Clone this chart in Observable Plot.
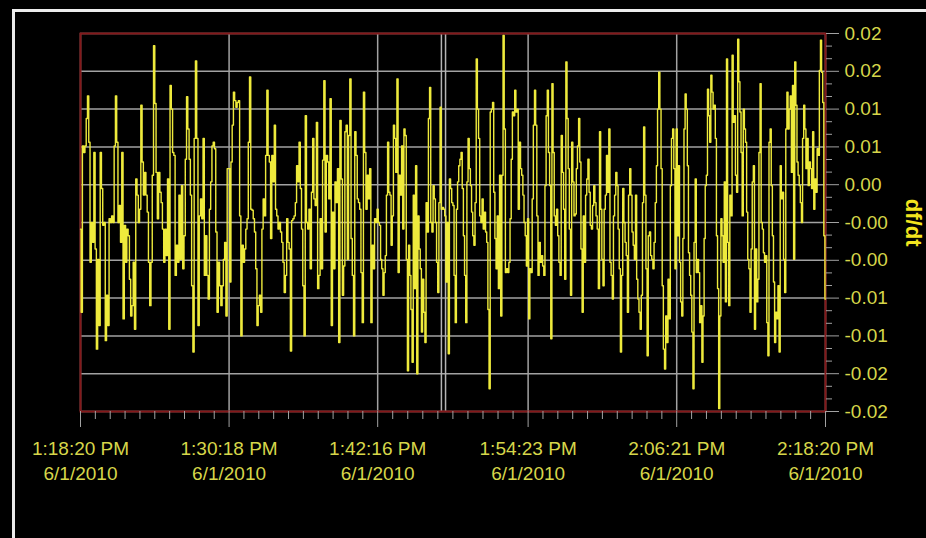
<!DOCTYPE html>
<html><head><meta charset="utf-8">
<script src="https://cdn.jsdelivr.net/npm/d3@7"></script>
<script src="https://cdn.jsdelivr.net/npm/@observablehq/plot@0.6"></script>
<style>
html,body{margin:0;padding:0;background:#000;overflow:hidden;width:926px;height:538px}
#chart{position:absolute;left:0;top:0}
#border{position:absolute;left:12px;top:9px;width:940px;height:560px;border:3px solid #ececec;pointer-events:none}
</style></head><body>
<div id="chart"></div><div id="border"></div>
<script>
// Tick times and labels (x axis)
const xTickTimes = [
  new Date(Date.UTC(2010,5,1,13,18,20)),
  new Date(Date.UTC(2010,5,1,13,30,18)),
  new Date(Date.UTC(2010,5,1,13,42,16)),
  new Date(Date.UTC(2010,5,1,13,54,23)),
  new Date(Date.UTC(2010,5,1,14,6,21)),
  new Date(Date.UTC(2010,5,1,14,18,20))
];
const xTickLabels = ["1:18:20 PM\n6/1/2010","1:30:18 PM\n6/1/2010","1:42:16 PM\n6/1/2010","1:54:23 PM\n6/1/2010","2:06:21 PM\n6/1/2010","2:18:20 PM\n6/1/2010"];
// cursor lines
const cursorTimes = [new Date(Date.UTC(2010,5,1,13,47,24)), new Date(Date.UTC(2010,5,1,13,47,44))];
// y ticks
const yTicks = [0.0198,0.0158,0.0118,0.0078,0.0038,-0.0002,-0.0042,-0.0082,-0.0122,-0.0162,-0.0202];

// df/dt samples, one list per labelled 12-minute interval
const seg1 = [-0.0009,-0.0097,0.0079,0.0072,0.0079,0.0108,0.0132,0.0083,-0.0044,-0.0002,-0.0023,0.0072,-0.0030,-0.0136,-0.0041,-0.0111,0.0072,0.0034,-0.0005,-0.0002,-0.0127,-0.0079,-0.0111,0.0002,-0.0002,0.0005,-0.0002,0.0079,0.0132,0.0083,-0.0002,0.0016,-0.0023,0.0072,-0.0104,-0.0005,-0.0044,-0.0009,-0.0016,-0.0062,-0.0101,-0.0090,-0.0044,-0.0115,0.0044,0.0027,-0.0002,0.0012,0.0122,0.0062,0.0027,0.0051,0.0027,0.0009,-0.0044,-0.0090,-0.0044,0.0048,0.0185,0.0124,0.0051,0.0002,0.0051,0.0030,0.0019,-0.0009,-0.0044,-0.0009,-0.0037,0.0044,-0.0115,0.0143,0.0118,0.0072,0.0069,-0.0058,-0.0026,-0.0044,0.0027,-0.0041,0.0037,-0.0051,-0.0016,0.0065,0.0131,0.0097,0.0065,0.0027,-0.0069,-0.0139,0.0087,0.0169,0.0087,-0.0111,0.0005,0.0023,0.0002,0.0087,-0.0058,-0.0016,-0.0058,-0.0083,0.0012,0.0041,0.0079,0.0083,0.0076,-0.0012,-0.0097,-0.0044,-0.0069,-0.0090,-0.0069,-0.0041,-0.0023,-0.0101,0.0055];
const seg2 = [0.0055,-0.0065,0.0062,0.0101,0.0136,0.0127,0.0120,0.0125,0.0127,0.0005,-0.0122,-0.0026,-0.0044,-0.0030,-0.0009,0.0002,0.0083,0.0152,0.0012,0.0011,0.0002,-0.0012,-0.0051,-0.0111,-0.0090,-0.0079,-0.0097,-0.0009,0.0023,0.0005,0.0069,0.0138,0.0069,0.0062,-0.0019,0.0069,0.0041,0.0101,0.0012,0.0005,-0.0009,-0.0002,-0.0012,-0.0023,-0.0044,-0.0076,-0.0058,0.0002,-0.0023,-0.0030,-0.0138,0.0000,0.0002,0.0005,0.0019,0.0058,0.0041,0.0083,0.0034,-0.0009,-0.0069,-0.0122,0.0111,-0.0002,-0.0009,0.0012,-0.0051,0.0030,0.0087,0.0023,0.0016,0.0104,-0.0072,-0.0058,0.0002,-0.0051,0.0064,0.0148,-0.0012,0.0069,0.0062,0.0023,0.0129,-0.0111,0.0009,-0.0051,0.0041,0.0019,0.0055,-0.0129,0.0106,0.0044,-0.0079,-0.0048,0.0094,0.0101,-0.0041,0.0090,0.0150,-0.0019,-0.0058,-0.0122,0.0094,0.0069,0.0023,0.0019,0.0012,-0.0055,-0.0108,0.0136,0.0072,0.0012,0.0048,0.0023,0.0055,-0.0108,-0.0026,-0.0051,0.0002,-0.0002];
const seg3 = [0.0012,-0.0002,-0.0005,-0.0041,-0.0051,-0.0079,-0.0055,-0.0037,0.0027,0.0083,0.0030,0.0027,-0.0026,0.0005,0.0101,0.0087,0.0051,0.0150,-0.0055,0.0048,0.0027,0.0079,-0.0009,0.0097,0.0090,-0.0041,-0.0159,-0.0026,-0.0058,-0.0094,-0.0150,0.0027,-0.0072,0.0058,-0.0162,0.0005,-0.0030,-0.0051,-0.0118,-0.0062,-0.0097,-0.0129,0.0019,-0.0012,0.0108,0.0141,-0.0002,-0.0012,0.0037,0.0023,-0.0002,-0.0044,-0.0076,0.0019,0.0120,0.0012,0.0014,0.0012,0.0005,-0.0065,-0.0002,-0.0141,0.0044,0.0034,0.0019,0.0016,-0.0058,-0.0108,0.0012,0.0041,0.0058,0.0065,0.0072,0.0034,-0.0016,-0.0058,-0.0108,0.0041,0.0087,0.0055,0.0037,0.0009,-0.0016,-0.0026,0.0019,0.0171,0.0118,0.0087,0.0005,-0.0002,0.0023,-0.0009,0.0009,-0.0012,-0.0023,-0.0094,-0.0178,0.0115,0.0118,0.0125,0.0030,-0.0019,-0.0051,0.0005,-0.0072,0.0048,-0.0101,0.0048,0.0196,0.0097,-0.0055,-0.0051,-0.0055,-0.0044,0.0002,0.0065,0.0115,0.0111,0.0138,0.0115,0.0118,0.0012,0.0083,0.0055,0.0048,0.0027,-0.0002,-0.0016,-0.0048];
const seg4 = [0.0002,-0.0104,-0.0051,-0.0055,0.0023,0.0101,0.0138,0.0101,0.0005,-0.0058,-0.0023,-0.0044,-0.0037,-0.0048,-0.0058,0.0037,0.0111,0.0138,0.0072,0.0037,-0.0125,0.0145,0.0072,0.0005,-0.0005,0.0012,-0.0016,-0.0044,-0.0058,0.0090,0.0051,0.0012,-0.0062,0.0168,0.0108,0.0055,-0.0009,-0.0079,0.0083,0.0041,0.0005,0.0007,0.0055,0.0079,0.0108,0.0062,-0.0030,-0.0097,0.0005,-0.0044,0.0027,0.0044,0.0065,0.0030,-0.0005,-0.0009,0.0016,0.0037,0.0019,0.0005,-0.0009,-0.0072,0.0094,0.0012,-0.0041,-0.0069,0.0012,0.0027,0.0069,0.0030,0.0097,-0.0044,-0.0058,-0.0083,0.0005,0.0027,0.0051,0.0037,-0.0009,-0.0051,-0.0139,-0.0058,0.0034,-0.0002,-0.0023,-0.0037,-0.0097,0.0027,0.0055,0.0027,-0.0012,-0.0026,-0.0041,0.0027,-0.0062,-0.0083,-0.0097,-0.0115,-0.0079,0.0019,0.0099,0.0027,-0.0051,-0.0143,-0.0016,-0.0012,-0.0037,-0.0041,-0.0051,-0.0023,0.0019,0.0058,0.0118,0.0157,0.0118,0.0055,-0.0069,-0.0136,-0.0157,-0.0101,-0.0129,-0.0062,-0.0104,0.0037,0.0087,0.0097,0.0055,-0.0051];
const seg5 = [0.0097,-0.0016,0.0058,-0.0044,-0.0086,-0.0101,-0.0019,0.0097,0.0134,0.0118,0.0058,-0.0034,-0.0058,-0.0079,-0.0118,-0.0178,-0.0023,0.0044,-0.0055,-0.0041,-0.0055,-0.0108,-0.0090,-0.0150,-0.0101,-0.0019,0.0037,0.0048,0.0139,0.0111,0.0083,0.0154,0.0136,0.0118,0.0122,0.0087,-0.0016,-0.0072,-0.0199,-0.0101,0.0002,-0.0016,-0.0044,0.0041,-0.0086,0.0171,-0.0023,-0.0090,0.0027,0.0005,0.0175,0.0104,0.0111,0.0048,0.0030,0.0192,0.0147,0.0115,0.0072,0.0005,0.0118,0.0097,0.0083,0.0009,-0.0041,-0.0051,-0.0097,-0.0030,0.0041,0.0058,-0.0115,-0.0030,-0.0086,-0.0062,0.0072,0.0145,-0.0002,-0.0009,-0.0034,-0.0044,-0.0037,-0.0108,-0.0143,0.0083,0.0097,0.0037,-0.0016,-0.0065,-0.0129,-0.0097,-0.0104,-0.0069,-0.0139,0.0058,0.0023,0.0030,-0.0041,-0.0076,0.0097,0.0136,0.0097,0.0118,0.0132,0.0051,0.0143,-0.0041,0.0168,0.0122,0.0062,0.0048,0.0037,0.0019,-0.0002,0.0087,0.0122,0.0097,0.0055,0.0087,0.0037,0.0062,0.0055,0.0034,0.0094,0.0012,0.0044,0.0030,0.0076,0.0069,0.0159,0.0191,0.0157,0.0125,-0.0016,-0.0083];

const segments = [seg1, seg2, seg3, seg4, seg5];
const data = [];
segments.forEach((vals, k) => {
  const t0 = +xTickTimes[k], t1 = +xTickTimes[k + 1];
  const last = k === segments.length - 1;
  const n = last ? vals.length - 1 : vals.length;
  vals.forEach((v, i) => data.push({t: new Date(t0 + (t1 - t0) * i / n), v}));
});

const labelMap = new Map(xTickTimes.map((d, i) => [+d, xTickLabels[i]]));
const xMinor = [];
for (let k = 0; k < xTickTimes.length - 1; k++) {
  const t0 = +xTickTimes[k], t1 = +xTickTimes[k + 1];
  for (let j = 1; j < 10; j++) xMinor.push(new Date(t0 + (t1 - t0) * j / 10));
}
const yMinor = [];
for (let k = 0; k < yTicks.length - 1; k++) {
  const a = yTicks[k], b = yTicks[k + 1];
  yMinor.push(a + (b - a) / 3, a + 2 * (b - a) / 3);
}

const gridColor = "#a2a2a2";
const textColor = "#d6d64a";

const chart = Plot.plot({
  width: 926, height: 538,
  marginLeft: 80, marginTop: 33, marginRight: 101, marginBottom: 127,
  style: {background: "#000", color: textColor, fontFamily: "'Liberation Sans', Arial, sans-serif", fontSize: "19px"},
  x: {type: "utc", domain: [xTickTimes[0], xTickTimes[xTickTimes.length - 1]]},
  y: {domain: [yTicks[yTicks.length - 1], yTicks[0]]},
  marks: [
    Plot.gridX({ticks: xTickTimes, stroke: gridColor, strokeOpacity: 1, strokeWidth: 1.5}),
    Plot.gridY({ticks: yTicks, stroke: gridColor, strokeOpacity: 1, strokeWidth: 1.5}),
    Plot.ruleX(cursorTimes, {stroke: "#b4b4b4", strokeWidth: 1.5}),
    Plot.frame({stroke: "#84181a", strokeWidth: 2}),
    Plot.line(data, {x: "t", y: "v", curve: "step", stroke: "#eeea3c", strokeWidth: 1.4}),
    Plot.axisX({ticks: xMinor, tickSize: 8, tickFormat: () => "", stroke: gridColor, label: null}),
    Plot.axisX({ticks: xTickTimes, tickSize: 16, tickPadding: 10, tickFormat: d => labelMap.get(+d),
      stroke: gridColor, fill: textColor, fontSize: 19, lineHeight: 1.3, label: null}),
    Plot.axisY({anchor: "right", ticks: yMinor, tickSize: 6, tickFormat: () => "", stroke: gridColor, label: null}),
    Plot.axisY({anchor: "right", ticks: yTicks, tickSize: 13, tickPadding: 6, tickFormat: d => d.toFixed(2),
      stroke: gridColor, fill: textColor, fontSize: 19, textAnchor: "start", label: null}),
    Plot.text(["df/dt"], {frameAnchor: "right", dx: 88, dy: 24, rotate: 90, text: d => d,
      fill: "#f2e41e", fontWeight: "bold", fontSize: 22})
  ]
});
document.getElementById("chart").appendChild(chart);
</script></body></html>
